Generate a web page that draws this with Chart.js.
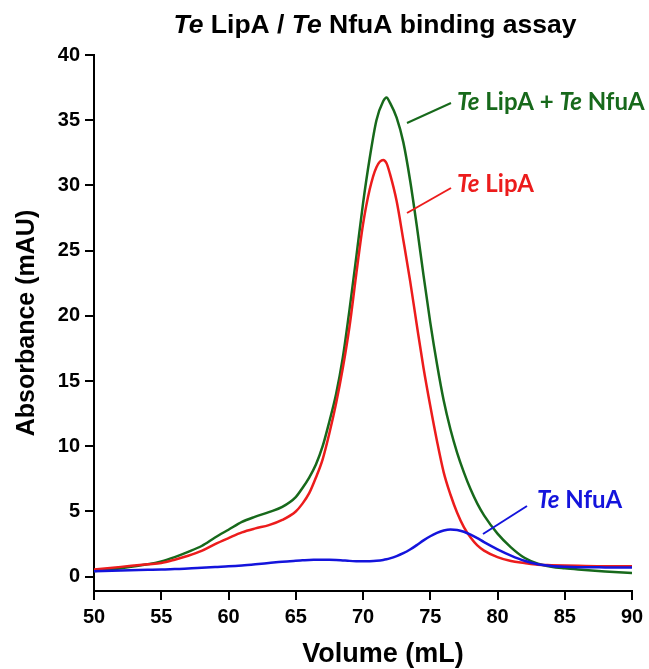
<!DOCTYPE html>
<html>
<head>
<meta charset="utf-8">
<script src="https://cdn.jsdelivr.net/npm/chart.js@4.4.1/dist/chart.umd.min.js"></script>
<style>
  html, body { margin: 0; padding: 0; background: #fff; }
  #wrap { width: 649px; height: 669px; position: relative; }
</style>
</head>
<body>
<div id="wrap"><canvas id="grafica" width="649" height="669"></canvas></div>
<script>
// Datos (volumen en mL, absorbancia en mAU)
var volumen = [50, 52, 54, 55, 56, 57, 58, 59, 60, 61, 62, 63, 64, 65, 65.5, 66, 66.5, 67, 67.5, 68, 68.5, 69, 69.5, 70, 70.5, 71, 71.5, 71.75, 72, 72.5, 73, 73.5, 74, 74.5, 75, 75.5, 76, 76.5, 77, 77.5, 78, 78.5, 79, 80, 81, 82, 83, 84, 85, 86, 88, 90];

var lipA = [0.55, 0.75, 0.95, 1.05, 1.3, 1.6, 1.98, 2.5, 2.96, 3.4, 3.7, 3.95, 4.35, 5.0, 5.6, 6.4, 7.6, 9.0, 11.0, 13.3, 16.0, 19.2, 23.2, 27.0, 29.7, 31.4, 31.95, 31.7, 30.9, 28.8, 25.8, 22.7, 19.3, 16.0, 13.1, 10.4, 8.0, 6.3, 4.9, 3.8, 3.0, 2.4, 2.0, 1.5, 1.2, 1.05, 0.92, 0.88, 0.85, 0.83, 0.8, 0.8];

var lipANfuA = [0.42, 0.65, 0.95, 1.17, 1.5, 1.9, 2.35, 3.0, 3.6, 4.2, 4.6, 4.95, 5.35, 6.1, 6.8, 7.6, 8.6, 10.0, 11.9, 14.0, 16.8, 20.5, 24.5, 28.6, 32.1, 35.0, 36.45, 36.75, 36.35, 35.2, 33.3, 30.4, 26.9, 23.1, 19.5, 16.3, 13.5, 11.3, 9.5, 8.0, 6.7, 5.6, 4.7, 3.3, 2.25, 1.45, 1.0, 0.76, 0.64, 0.55, 0.4, 0.28];

var nfuA = [0.42, 0.48, 0.52, 0.54, 0.58, 0.62, 0.68, 0.74, 0.79, 0.86, 0.95, 1.05, 1.15, 1.22, 1.25, 1.28, 1.29, 1.3, 1.29, 1.27, 1.24, 1.21, 1.19, 1.18, 1.19, 1.22, 1.28, 1.33, 1.4, 1.58, 1.8, 2.08, 2.42, 2.78, 3.1, 3.36, 3.54, 3.62, 3.58, 3.44, 3.22, 2.95, 2.65, 2.1, 1.62, 1.22, 0.95, 0.82, 0.76, 0.73, 0.71, 0.7];

var ticksY = [0, 5, 10, 15, 20, 25, 30, 35, 40];

var verde = '#17691b';
var rojo = '#ec1c1c';
var azul = '#1414dc';

function puntos(serie) {
  return volumen.map(function (v, i) { return { x: v, y: serie[i] }; });
}

// Texto con "Te" en cursiva
function textoMixto(ctx, partes, x, y, size, familia) {
  var pos = x;
  partes.forEach(function (p) {
    ctx.font = (p.it ? 'italic ' : '') + 'bold ' + size + 'px ' + familia;
    ctx.fillText(p.t, pos, y);
    pos += ctx.measureText(p.t).width;
  });
  return pos - x;
}

function anchoMixto(ctx, partes, size, familia) {
  var w = 0;
  partes.forEach(function (p) {
    ctx.font = (p.it ? 'italic ' : '') + 'bold ' + size + 'px ' + familia;
    w += ctx.measureText(p.t).width;
  });
  return w;
}

var etiquetas = {
  id: 'etiquetas',
  afterDraw: function (chart) {
    var ctx = chart.ctx;
    ctx.save();
    ctx.textBaseline = 'alphabetic';
    ctx.textAlign = 'left';

    // titulo
    var titulo = [{ t: 'Te', it: true }, { t: ' LipA / ', it: false }, { t: 'Te', it: true }, { t: ' NfuA binding assay', it: false }];
    ctx.fillStyle = '#000';
    var fTit = '"Liberation Sans", Arial, sans-serif';
    var w = anchoMixto(ctx, titulo, 26.5, fTit);
    textoMixto(ctx, titulo, 375 - w / 2, 33, 26.5, fTit);

    // titulo del eje x
    ctx.font = 'bold 27px "Liberation Sans", Arial, sans-serif';
    ctx.textAlign = 'center';
    ctx.fillText('Volume (mL)', 383, 662);
    ctx.textAlign = 'left';

    var fEt = 'Lato, "Open Sans", sans-serif';
    var lineas = [
      { c: verde, a: [407, 123], b: [451, 103], x: 457, y: 110, p: [{ t: 'Te', it: true }, { t: ' LipA + ', it: false }, { t: 'Te', it: true }, { t: ' NfuA', it: false }] },
      { c: rojo, a: [407, 213], b: [451, 188], x: 457, y: 192, p: [{ t: 'Te', it: true }, { t: ' LipA', it: false }] },
      { c: azul, a: [483, 534], b: [527, 506], x: 537, y: 508, p: [{ t: 'Te', it: true }, { t: ' NfuA', it: false }] }
    ];
    lineas.forEach(function (l) {
      ctx.strokeStyle = l.c;
      ctx.lineWidth = 2;
      ctx.beginPath();
      ctx.moveTo(l.a[0], l.a[1]);
      ctx.lineTo(l.b[0], l.b[1]);
      ctx.stroke();
      ctx.fillStyle = l.c;
      textoMixto(ctx, l.p, l.x, l.y, 24, fEt);
    });
    ctx.restore();
  }
};

var ctx = document.getElementById('grafica').getContext('2d');

var miGrafica = new Chart(ctx, {
  type: 'line',
  data: {
    datasets: [
      { label: 'Te NfuA', data: puntos(nfuA), borderColor: azul },
      { label: 'Te LipA', data: puntos(lipA), borderColor: rojo },
      { label: 'Te LipA + Te NfuA', data: puntos(lipANfuA), borderColor: verde }
    ]
  },
  options: {
    responsive: false,
    animation: false,
    layout: { padding: { top: 55, right: 17, left: 0, bottom: 0 } },
    elements: {
      point: { radius: 0 },
      line: { borderWidth: 2.5, cubicInterpolationMode: 'monotone', fill: false }
    },
    plugins: {
      legend: { display: false },
      tooltip: { enabled: false }
    },
    scales: {
      x: {
        type: 'linear',
        min: 50,
        max: 90,
        ticks: { stepSize: 5, color: '#000', padding: 5, maxRotation: 0, font: { family: '"Liberation Sans", Arial', size: 20, weight: 'bold' } },
        grid: { drawOnChartArea: false, drawTicks: true, tickLength: 9, color: '#000', lineWidth: 2 },
        border: { display: true, color: '#000', width: 2 },
        title: { display: false },
        afterFit: function (scale) { scale.height = 78; }
      },
      y: {
        min: -1.1,
        max: 40,
        afterBuildTicks: function (scale) {
          scale.ticks = ticksY.map(function (v) { return { value: v }; });
        },
        ticks: { color: '#000', padding: 5, font: { family: '"Liberation Sans", Arial', size: 20, weight: 'bold' } },
        grid: { drawOnChartArea: false, drawTicks: true, tickLength: 9, color: '#000', lineWidth: 2 },
        border: { display: true, color: '#000', width: 2 },
        title: { display: true, text: 'Absorbance (mAU)', color: '#000', padding: { top: 12, bottom: 0 }, font: { family: '"Liberation Sans", Arial', size: 25, weight: 'bold' } },
        afterFit: function (scale) { scale.width = 94; }
      }
    }
  },
  plugins: [etiquetas]
});
</script>
</body>
</html>
